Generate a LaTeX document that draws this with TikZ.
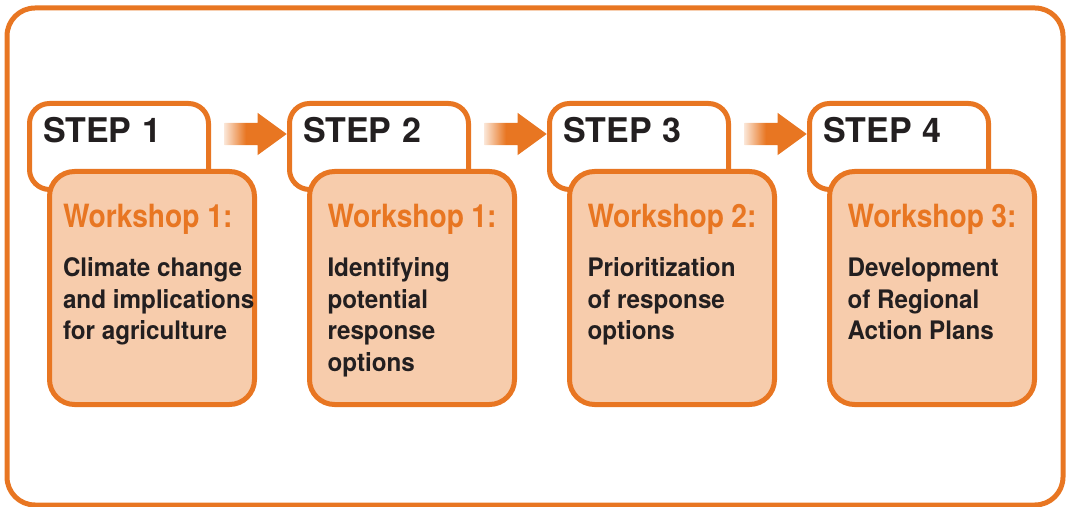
\documentclass[tikz,border=0pt]{standalone}
\usepackage{fontspec}
\setmainfont{TeX Gyre Heros}
\newfontfamily\werkcond[FakeStretch=0.88]{TeX Gyre Heros}
\newfontfamily\inhaltcond[FakeStretch=0.95]{TeX Gyre Heros}
\usetikzlibrary{positioning, shapes.arrows, calc}
\definecolor{orng}{RGB}{232,118,34}
\definecolor{lachs}{RGB}{247,204,172}
\definecolor{tinte}{RGB}{35,31,32}
\pgfdeclarehorizontalshading{pilfade}{100bp}{color(0bp)=(orng!20); color(25bp)=(orng!20);
  color(42bp)=(orng); color(100bp)=(orng)}
\newcommand\werkfont{\werkcond\bfseries\fontsize{32}{38}\selectfont\color{orng}}
\newcommand\inhaltfont{\inhaltcond\bfseries\fontsize{25.5}{31.5}\selectfont
  \spaceskip=0pt \xspaceskip=0pt}

\begin{document}
\begin{tikzpicture}[x=1pt, y=1pt,
every node/.append style = {outer sep=0pt},
node distance = 81pt,
 rahmen/.style = {draw=orng, line width=5pt, rounded corners=28pt},
schritt/.style = {draw=orng, fill=white, line width=5pt, rounded corners=20pt,
                  minimum width=179pt, minimum height=86pt,
                  inner xsep=13.5pt, inner ysep=0pt,
                  text width=152pt, align=left,
                  text height=39.5pt, text depth=46.5pt, text=tinte,
                  font=\bfseries\fontsize{34}{40}\selectfont},
   werk/.style = {draw=orng, fill=lachs, line width=5pt, rounded corners=25pt,
                  minimum width=205pt, minimum height=233pt,
                  inner xsep=#1, inner ysep=0pt, text width=205pt-2*#1,
                  text height=56.5pt, text depth=176.5pt, text=tinte},
 werk/.default = 18pt,
    pil/.style = {single arrow, minimum height=62pt, minimum width=42pt,
                  single arrow head extend=10pt, single arrow tip angle=72,
                  single arrow head indent=0pt, inner xsep=0pt, inner ysep=11pt,
                  shade, shading=pilfade}
                    ]
\useasboundingbox (0,0) rectangle (1067,506);
% frame
\draw[rahmen] (7,1) rectangle (1063,498);
% steps
\node (s1)  [schritt] at (119,359.5)                      {STEP 1};
\node (w1)  [werk=13.5pt,
             below right=-18pt and 20pt of s1.south west]
            {\parbox[t]{\hsize}{\inhaltfont\leavevmode{\werkfont Workshop 1:}\\[17.5pt]
             \mbox{Climate change}\\\mbox{and implications}\\for agriculture}};
%
\node (s2)  [schritt, right=of s1]                        {STEP 2};
\node (w2)  [werk,
             below right=-18pt and 20pt of s2.south west]
            {\parbox[t]{\hsize}{\inhaltfont\leavevmode{\werkfont Workshop 1:}\\[17.5pt]
             Identifying\\potential\\response\\options}};
%
\node (s3)  [schritt, right=of s2]                        {STEP 3};
\node (w3)  [werk,
             below right=-18pt and 20pt of s3.south west]
            {\parbox[t]{\hsize}{\inhaltfont\leavevmode{\werkfont Workshop 2:}\\[17.5pt]
             Prioritization\\of response\\options}};
%
\node (s4)  [schritt, right=of s3]                        {STEP 4};
\node (w4)  [werk,
             below right=-18pt and 20pt of s4.south west]
            {\parbox[t]{\hsize}{\inhaltfont\leavevmode{\werkfont Workshop 3:}\\[17.5pt]
             Development\\of Regional\\Action Plans}};
% arrows
\node (p1)  [pil] at ($(s1.east)!.5!(s2.west) + (-1,12.5)$) {};
\node (p2)  [pil] at ($(s2.east)!.5!(s3.west) + (-1,12.5)$) {};
\node (p3)  [pil] at ($(s3.east)!.5!(s4.west) + (-1,12.5)$) {};
\end{tikzpicture}
\end{document}
